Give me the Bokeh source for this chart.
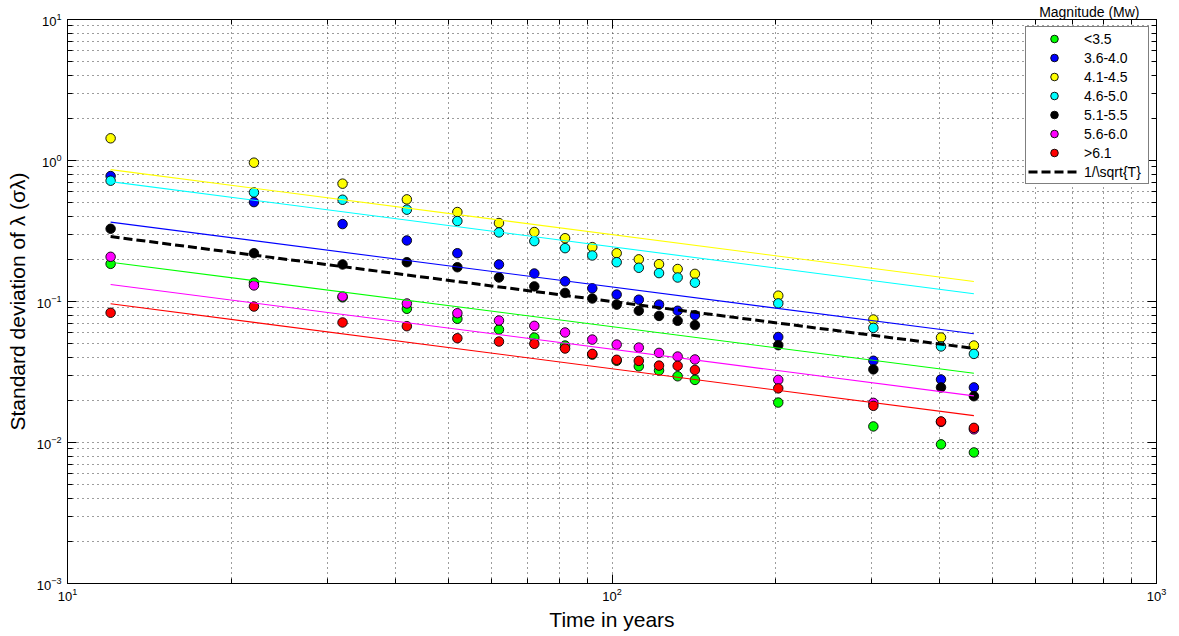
from bokeh.plotting import figure
from bokeh.models import LogAxis, FixedTicker, Legend, LegendItem, CustomJSTickFormatter
from bokeh.embed import file_html
from bokeh.resources import INLINE

# ---------------- data ----------------
T = [12, 22, 32, 42, 52, 62, 72, 82, 92, 102, 112, 122, 132, 142, 202, 302, 402, 462]

series_names = ["<3.5", "3.6-4.0", "4.1-4.5", "4.6-5.0", "5.1-5.5", "5.6-6.0", ">6.1"]
series_colors = ["#00ff00", "#0000ff", "#ffff00", "#00ffff", "#000000", "#ff00ff", "#ff0000"]

sd_lt35 = [0.185, 0.136, 0.107, 0.0888, 0.0754, 0.0633, 0.0555, 0.0487, 0.042, 0.038,
           0.0347, 0.0324, 0.0295, 0.0278, 0.0192, 0.0130, 0.0097, 0.0085]
sd_36_40 = [0.776, 0.507, 0.354, 0.271, 0.220, 0.183, 0.158, 0.139, 0.124, 0.112,
            0.103, 0.095, 0.086, 0.080, 0.056, 0.038, 0.028, 0.0246]
sd_41_45 = [1.437, 0.965, 0.685, 0.530, 0.431, 0.360, 0.311, 0.281, 0.243, 0.220,
            0.199, 0.184, 0.170, 0.157, 0.110, 0.0745, 0.0555, 0.0487]
sd_46_50 = [0.719, 0.594, 0.527, 0.448, 0.372, 0.309, 0.268, 0.239, 0.212, 0.190,
            0.1735, 0.159, 0.148, 0.136, 0.097, 0.065, 0.048, 0.0425]
sd_51_55 = [0.328, 0.220, 0.183, 0.190, 0.175, 0.148, 0.128, 0.115, 0.105, 0.095,
            0.086, 0.079, 0.073, 0.068, 0.049, 0.033, 0.0246, 0.0213]
sd_56_60 = [0.2075, 0.130, 0.1085, 0.0968, 0.0826, 0.0733, 0.0672, 0.0603, 0.0537, 0.0495,
            0.0471, 0.0432, 0.0407, 0.0388, 0.0278, 0.0191, 0.0140, 0.0124]
sd_gt61 = [0.0832, 0.0921, 0.0710, 0.0668, 0.0549, 0.052, 0.0501, 0.0464, 0.0425, 0.0386,
           0.0379, 0.0351, 0.0350, 0.0327, 0.0242, 0.0182, 0.0141, 0.0127]

# fitted power-law lines (end points)
fit_T = [12, 462]
fit_lt35 = [0.190, 0.031]
fit_36_40 = [0.3656, 0.059]
fit_41_45 = [0.861, 0.1386]
fit_46_50 = [0.708, 0.1134]
fit_56_60 = [0.132, 0.0214]
fit_gt61 = [0.0963, 0.0155]

ref_T = [12, 462]
ref_sigma = [0.2887, 0.0465]   # 1/sqrt(T)
ref_label = "1/\\sqrt{T}"

legend_title = "Magnitude (Mw)"
x_label = "Time in years"
y_label = "Standard deviation of \u03bb (\u03c3\u03bb)"

x_major = [10, 100, 1000]
y_major = [0.001, 0.01, 0.1, 1, 10]
x_minor = [m * d for d in [10, 100] for m in range(2, 10)]
y_minor = [m * d for d in [0.001, 0.01, 0.1, 1] for m in range(2, 10)]

FONT = "Liberation Sans"

# ---------------- figure ----------------
p = figure(width=1179, height=636, x_axis_type="log", y_axis_type="log",
           x_range=(10, 1000), y_range=(0.001, 10),
           output_backend="svg", toolbar_location=None,
           min_border_left=67, min_border_right=23, min_border_top=19, min_border_bottom=53)
p.background_fill_color = "white"
p.border_fill_color = "white"
p.outline_line_color = "black"
p.outline_line_width = 1

# legend title drawn as the plot title, right-aligned above the legend box
p.title.text = legend_title
p.title.align = "right"
p.title.offset = 17
p.title.standoff = 0
p.title.text_font = FONT
p.title.text_font_size = "14px"
p.title.text_font_style = "normal"
p.title.text_color = "black"

xt = FixedTicker(ticks=x_major, minor_ticks=x_minor)
yt = FixedTicker(ticks=y_major, minor_ticks=y_minor)

def style_axis(ax):
    ax.axis_line_color = "black"
    ax.axis_line_width = 1
    ax.major_tick_in = 9
    ax.major_tick_out = 0
    ax.minor_tick_in = 5
    ax.minor_tick_out = 0
    ax.major_tick_line_color = "black"
    ax.minor_tick_line_color = "black"
    ax.major_label_text_font = FONT
    ax.major_label_text_font_size = "13px"
    ax.major_label_text_color = "black"

p.xaxis.ticker = xt
p.yaxis.ticker = yt
style_axis(p.xaxis[0])
style_axis(p.yaxis[0])
p.xaxis.major_label_standoff = 4
p.yaxis.major_label_standoff = 6

p.xaxis.axis_label = x_label
p.yaxis.axis_label = y_label
for ax in (p.xaxis[0], p.yaxis[0]):
    ax.axis_label_text_font = FONT
    ax.axis_label_text_font_size = "21px"
    ax.axis_label_text_font_style = "normal"
    ax.axis_label_text_color = "black"
p.xaxis.axis_label_standoff = 4
p.yaxis.axis_label_standoff = 5

blank = CustomJSTickFormatter(code="return ''")
top_ax = LogAxis(ticker=xt, formatter=blank)
right_ax = LogAxis(ticker=yt, formatter=blank)
style_axis(top_ax)
style_axis(right_ax)
top_ax.major_label_standoff = 0
right_ax.major_label_standoff = 0
p.add_layout(top_ax, "above")
p.add_layout(right_ax, "right")

for g in (p.xgrid[0], p.ygrid[0]):
    g.grid_line_color = "#3a3a3a"
    g.grid_line_dash = "1 4"
    g.grid_line_width = 1
    g.minor_grid_line_color = "#3a3a3a"
    g.minor_grid_line_dash = "1 4"
    g.minor_grid_line_width = 1

# ---------------- marks ----------------
all_series = [sd_lt35, sd_36_40, sd_41_45, sd_46_50, sd_51_55, sd_56_60, sd_gt61]
dot_renderers = []
for vals, col in zip(all_series, series_colors):
    r = p.scatter(T, vals, marker="circle", size=9.5, fill_color=col,
                  line_color="black", line_width=0.9)
    dot_renderers.append(r)

fits = [(fit_lt35, "#00ff00"), (fit_36_40, "#0000ff"), (fit_41_45, "#ffff00"),
        (fit_46_50, "#00ffff"), (fit_56_60, "#ff00ff"), (fit_gt61, "#ff0000")]
for vals, col in fits:
    p.line(fit_T, vals, line_color=col, line_width=1.1)

ref_r = p.line(ref_T, ref_sigma, line_color="black", line_width=3, line_dash="9 4")

# ---------------- legend ----------------
items = [LegendItem(label=n, renderers=[r]) for n, r in zip(series_names, dot_renderers)]
items.append(LegendItem(label=ref_label, renderers=[ref_r]))
leg = Legend(items=items, location="top_right", margin=7, padding=2, spacing=0,
             glyph_height=19, label_height=19, glyph_width=52, label_width=62,
             label_standoff=4, label_text_font=FONT, label_text_font_size="14px",
             label_text_color="black", border_line_color="black", border_line_width=1,
             background_fill_color="white", background_fill_alpha=1.0)
p.add_layout(leg)

open("out.html", "w").write(file_html(p, INLINE))
